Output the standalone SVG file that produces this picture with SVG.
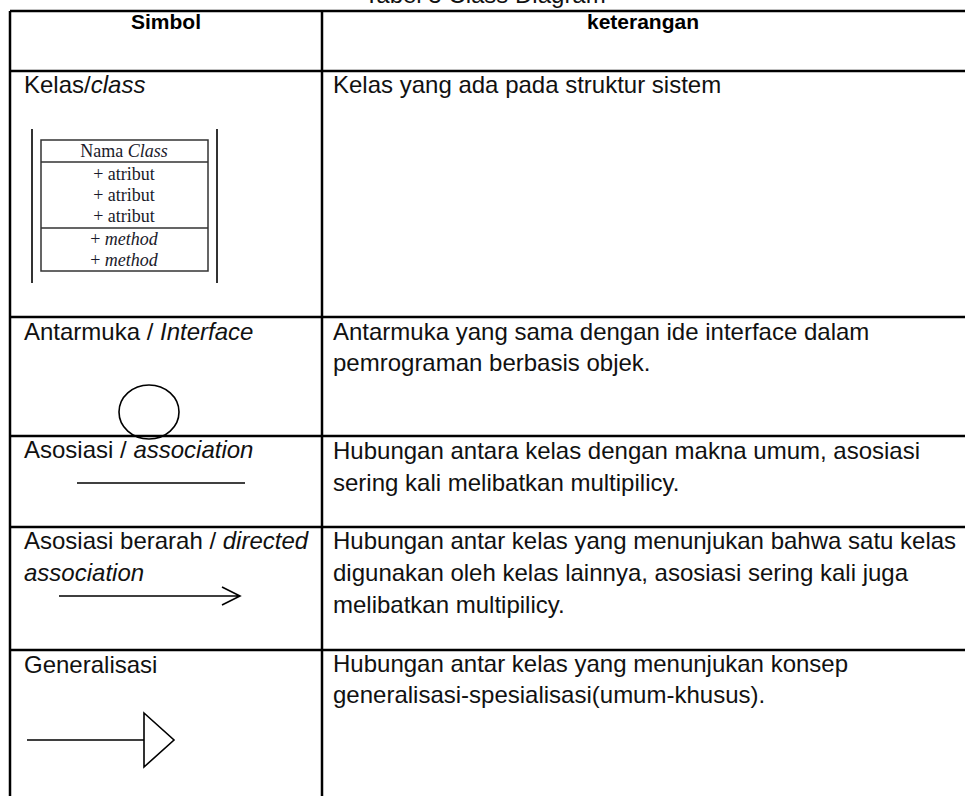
<svg xmlns="http://www.w3.org/2000/svg" width="965" height="796" viewBox="0 0 965 796">
<style>
.t{font-family:"Liberation Sans",Arial,sans-serif;font-size:24px;fill:#111}
.h{font-family:"Liberation Sans",Arial,sans-serif;font-size:21px;font-weight:bold;fill:#000;text-anchor:middle}
.s{font-family:"Liberation Serif","Times New Roman",serif;font-size:18px;fill:#1a1a2a;text-anchor:middle}
.grid{stroke:#000;stroke-width:2.5;fill:none}
.sym{stroke:#000;stroke-width:1.6;fill:none}
.it{font-style:italic}
</style>
<text class="t" x="485" y="3" text-anchor="middle" fill="#555">Tabel 3 Class Diagram</text>
<g id="table">
<path class="grid" d="M10 11H965M10 71H965M10 317H965M10 436H965M10 527H965M10 650H965M10 11V796M322 11V796"/>
</g>
<g id="header">
<text class="h" x="166" y="29">Simbol</text>
<text class="h" x="643" y="29">keterangan</text>
</g>
<g id="row-class">
<text class="t" x="24" y="93">Kelas/<tspan class="it">class</tspan></text>
<text class="t" x="333" y="93">Kelas yang ada pada struktur sistem</text>
<path d="M32 129V283M217 129V283" stroke="#333" stroke-width="2" fill="none"/>
<rect x="41" y="140" width="167" height="131" fill="none" stroke="#333" stroke-width="1.5"/>
<path d="M41 162H208M41 228H208" stroke="#333" stroke-width="1.5"/>
<text class="s" x="124" y="157">Nama <tspan class="it">Class</tspan></text>
<text class="s" x="124" y="180">+ atribut</text>
<text class="s" x="124" y="201">+ atribut</text>
<text class="s" x="124" y="222">+ atribut</text>
<text class="s" x="124" y="245">+ <tspan class="it">method</tspan></text>
<text class="s" x="124" y="266">+ <tspan class="it">method</tspan></text>
</g>
<g id="row-interface">
<text class="t" x="24" y="340">Antarmuka / <tspan class="it">Interface</tspan></text>
<text class="t" x="333" y="340">Antarmuka yang sama dengan ide interface dalam</text>
<text class="t" x="333" y="371">pemrograman berbasis objek.</text>
<ellipse class="sym" cx="149" cy="412" rx="30" ry="27"/>
</g>
<g id="row-association">
<text class="t" x="24" y="458">Asosiasi / <tspan class="it">association</tspan></text>
<text class="t" x="333" y="459">Hubungan antara kelas dengan makna umum, asosiasi</text>
<text class="t" x="333" y="491">sering kali melibatkan multipilicy.</text>
</g>
<g id="row-directed">
<text class="t" x="24" y="549">Asosiasi berarah / <tspan class="it">directed</tspan></text>
<text class="t it" x="24" y="581">association</text>
<text class="t" x="333" y="549">Hubungan antar kelas yang menunjukan bahwa satu kelas</text>
<text class="t" x="333" y="581">digunakan oleh kelas lainnya, asosiasi sering kali juga</text>
<text class="t" x="333" y="613">melibatkan multipilicy.</text>
</g>
<g id="row-generalization">
<text class="t" x="24" y="673">Generalisasi</text>
<text class="t" x="333" y="672">Hubungan antar kelas yang menunjukan konsep</text>
<text class="t" x="333" y="703">generalisasi-spesialisasi(umum-khusus).</text>
</g>
<g id="connectors">
<path class="sym" d="M77 483H245"/>
<path class="sym" d="M59 596H240M222 587L240 596L222 605"/>
<path class="sym" d="M27 740H144M144 713L174 740L144 767Z"/>
</g>
</svg>
